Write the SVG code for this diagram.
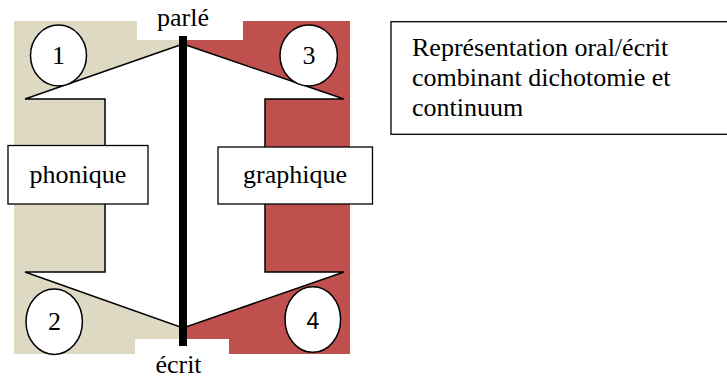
<svg xmlns="http://www.w3.org/2000/svg" width="727" height="379" viewBox="0 0 727 379">
<style>
.t{font-size:26px;fill:#000}
.s{font-size:23px;fill:#000}
.ol{fill:#fff;stroke:#000;stroke-width:1.5}
.box{fill:#fff;stroke:#000;stroke-width:1.3}
</style>
<rect width="727" height="379" fill="#fff"/>
<g id="background">
<rect x="14" y="21" width="169" height="333" fill="#DDD9C3"/>
<rect x="183" y="21" width="167" height="333" fill="#C0504D"/>
<rect x="137" y="21" width="106" height="19" fill="#fff"/>
<rect x="135" y="339" width="94" height="16" fill="#fff"/>
</g>
<g id="connectors">
<polygon class="ol" points="183,44 25,99 105,99 105,272 25,272 183,328"/>
<polygon class="ol" points="183,44 344,99 265,99 265,272 344,272 183,328"/>
<rect x="179" y="36" width="8" height="310" fill="#000"/>
</g>
<g id="n1"><ellipse class="ol" cx="58.5" cy="55.5" rx="28" ry="30.5"/><text class="t" font-family="Liberation Serif, serif" x="58.5" y="64" text-anchor="middle">1</text></g>
<g id="n3"><ellipse class="ol" cx="308.7" cy="55.5" rx="28.7" ry="30.5"/><text class="t" font-family="Liberation Serif, serif" x="309" y="64" text-anchor="middle">3</text></g>
<g id="n2"><ellipse class="ol" cx="54.2" cy="321.7" rx="28.2" ry="32.7"/><text class="t" font-family="Liberation Serif, serif" x="54.5" y="330" text-anchor="middle">2</text></g>
<g id="n4"><ellipse class="ol" cx="312.8" cy="319.5" rx="27.8" ry="32.8"/><text class="s" font-family="Liberation Sans, sans-serif" x="313" y="329" text-anchor="middle">4</text></g>
<g id="phonique"><rect class="box" x="8" y="145.5" width="140" height="58.5"/><text class="t" font-family="Liberation Serif, serif" x="78" y="183" text-anchor="middle">phonique</text></g>
<g id="graphique"><rect class="box" x="218" y="147" width="154.5" height="57"/><text class="t" font-family="Liberation Serif, serif" x="295" y="183" text-anchor="middle">graphique</text></g>
<g id="parle"><text class="t" font-family="Liberation Serif, serif" x="183" y="26" text-anchor="middle">parlé</text></g>
<g id="ecrit"><text class="t" font-family="Liberation Serif, serif" x="178.5" y="373" text-anchor="middle">écrit</text></g>
<g id="title"><rect class="box" x="391" y="21.7" width="345" height="112.6"/>
<text class="t" font-family="Liberation Serif, serif" x="412" y="56">Représentation oral/écrit</text>
<text class="t" font-family="Liberation Serif, serif" x="412" y="86">combinant dichotomie et</text>
<text class="t" font-family="Liberation Serif, serif" x="412" y="116">continuum</text></g>
</svg>
